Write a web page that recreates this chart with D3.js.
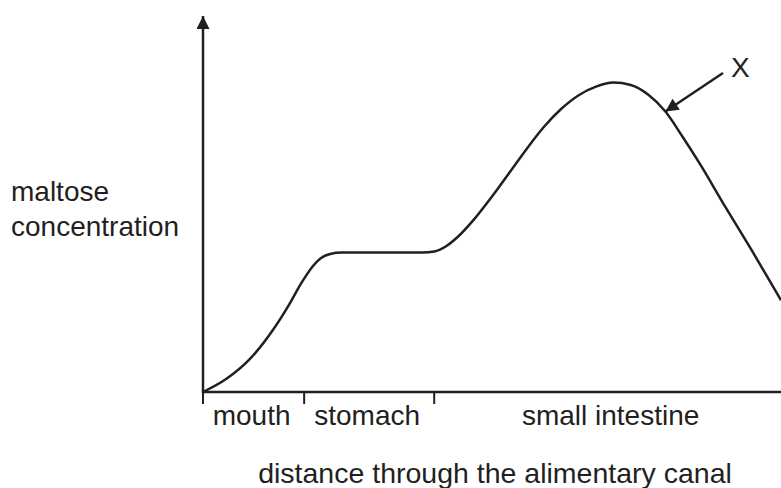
<!DOCTYPE html>
<html>
<head>
<meta charset="utf-8">
<script src="https://cdn.jsdelivr.net/npm/d3@7"></script>
<style>
  body { margin: 0; background: #fff; }
  text { font-family: "Liberation Sans", Arial, sans-serif; fill: #231f20; }
</style>
</head>
<body>
<div id="chart"></div>
<script>
// curve (distance 0-100, concentration 0-100)
const distance = [0, 4, 8, 12, 15, 17, 19, 20.5, 22, 24, 26, 38, 40, 42, 44, 47, 50, 53, 56, 59, 62, 65, 68, 71, 74, 77, 80, 83, 86, 90, 95, 100];
const maltose = [0, 3.8, 9.5, 18, 26, 32, 37, 39.5, 40.6, 41, 41, 41, 41.3, 42.8, 45.5, 51, 57.5, 64.5, 71.5, 78, 83.3, 87.3, 89.8, 91, 90.3, 87.5, 82.5, 75, 67, 55.5, 41.5, 27];

// regions along the canal
const regions = ['mouth', 'stomach', 'small intestine'];
const regionEdges = [0, 17.5, 40, 100];

// the X label points at this sample of the curve
const markIndex = 26;
const markLabel = 'X';

const width = 781;
const height = 488;

const x = d3.scaleLinear().domain([0, 100]).range([203, 781]);
const y = d3.scaleLinear().domain([0, 100]).range([392, 52]);

const svg = d3.select('#chart')
  .append('svg')
  .attr('width', width)
  .attr('height', height);

const defs = svg.append('defs');
defs.append('marker')
  .attr('id', 'head')
  .attr('viewBox', '0 0 10 10')
  .attr('refX', 10)
  .attr('refY', 5)
  .attr('markerUnits', 'userSpaceOnUse')
  .attr('markerWidth', 22)
  .attr('markerHeight', 13)
  .attr('orient', 'auto')
  .append('path')
  .attr('d', 'M0,0 L10,5 L0,10 Z')
  .attr('fill', '#231f20');

// y axis with arrow
svg.append('line')
  .attr('x1', x(0)).attr('y1', y(0) + 1)
  .attr('x2', x(0)).attr('y2', 16)
  .attr('stroke', '#231f20')
  .attr('stroke-width', 2.5)
  .attr('marker-end', 'url(#head)');

// x axis
svg.append('line')
  .attr('x1', x(0) - 1).attr('y1', y(0))
  .attr('x2', width).attr('y2', y(0))
  .attr('stroke', '#231f20')
  .attr('stroke-width', 2.5);

// region ticks
svg.append('g')
  .selectAll('line')
  .data(regionEdges.slice(0, 3))
  .enter().append('line')
  .attr('x1', d => x(d)).attr('x2', d => x(d))
  .attr('y1', y(0)).attr('y2', y(0) + 12)
  .attr('stroke', '#231f20')
  .attr('stroke-width', 2);

// region labels
svg.append('g')
  .selectAll('text')
  .data(regions)
  .enter().append('text')
  .attr('x', (d, i) => (x(regionEdges[i]) + x(regionEdges[i + 1])) / 2 - (i === 2 ? -3 : 2))
  .attr('y', 425)
  .attr('text-anchor', 'middle')
  .style('font-size', '28px')
  .text(d => d);

// the curve
const line = d3.line()
  .x(d => x(d[0]))
  .y(d => y(d[1]))
  .curve(d3.curveMonotoneX);

svg.append('path')
  .datum(d3.zip(distance, maltose))
  .attr('d', line)
  .attr('fill', 'none')
  .attr('stroke', '#231f20')
  .attr('stroke-width', 2.5);

// X annotation
const tipX = x(distance[markIndex]);
const tipY = y(maltose[markIndex]);
svg.append('line')
  .attr('x1', 723).attr('y1', 73)
  .attr('x2', tipX).attr('y2', tipY)
  .attr('stroke', '#231f20')
  .attr('stroke-width', 2.5)
  .attr('marker-end', 'url(#head)');

svg.append('text')
  .attr('x', 731)
  .attr('y', 77)
  .style('font-size', '28px')
  .text(markLabel);

// axis titles
const ylab = svg.append('text')
  .attr('x', 11)
  .attr('y', 201)
  .style('font-size', '28px');
ylab.append('tspan').attr('x', 11).text('maltose');
ylab.append('tspan').attr('x', 11).attr('dy', 35).text('concentration');

svg.append('text')
  .attr('x', 495)
  .attr('y', 483)
  .attr('text-anchor', 'middle')
  .style('font-size', '28.5px')
  .text('distance through the alimentary canal');
</script>
</body>
</html>
